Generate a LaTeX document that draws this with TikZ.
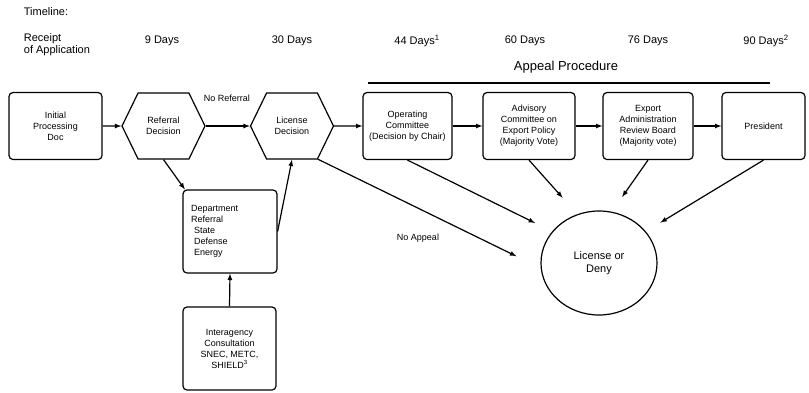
\documentclass[tikz,border=0pt]{standalone}
\usepackage{fontspec}
\setmainfont{Liberation Sans}
\usetikzlibrary{arrows,shapes.symbols,shapes.geometric}

\begin{document}
\begin{tikzpicture}[->,>=latex,line width=1.2pt,x=1pt,y=-1pt]
	\tikzstyle{every node}=[font=\fontsize{9}{11}\selectfont]
	\tikzstyle{stage}=[draw,rectangle,rounded corners=4pt,minimum height=67pt,align=center,inner sep=2pt]
	\tikzstyle{decision}=[draw,signal,signal to=east and west,signal pointer angle=128,minimum width=83pt,minimum height=66pt,align=center,inner sep=1pt]
	\tikzstyle{daymark}=[font=\fontsize{11}{12}\selectfont]

	\useasboundingbox (0,0) rectangle (809,392);

	% timeline
	\node[daymark,anchor=west] (tl) at (20,12) {Timeline:};
	\node[daymark,anchor=west,align=left] (d0) at (20,45) {Receipt\\of Application};
	\node[daymark] (d9)  at (162,41) {9 Days};
	\node[daymark] (d30) at (292,41) {30 Days};
	\node[daymark] (d44) at (417,41) {44 Days\textsuperscript{1}};
	\node[daymark] (d60) at (525,41) {60 Days};
	\node[daymark] (d76) at (648,41) {76 Days};
	\node[daymark] (d90) at (766,41) {90 Days\textsuperscript{2}};

	\node[font=\fontsize{13}{15}\selectfont] (appeal) at (566,67) {Appeal Procedure};
	\draw[-,line width=1.8pt] (368,83) -- (770,83);

	% main row
	\node[stage,minimum width=93pt] (init) at (55.5,126) {Initial\\Processing\\Doc};
	\node[decision] (ref) at (163.5,126) {Referral\\Decision};
	\node[decision] (lic) at (292,126) {License\\Decision};
	\node[stage,minimum width=89pt] (op)  at (407.5,126) {Operating\\Committee\\(Decision by Chair)};
	\node[stage,minimum width=92pt] (acep) at (529,126) {Advisory\\Committee on\\Export Policy\\(Majority Vote)};
	\node[stage,minimum width=90pt] (earb) at (648,126) {Export\\Administration\\Review Board\\(Majority vote)};
	\node[stage,minimum width=83pt] (pres) at (763.5,126) {President};

	% referral branch
	\node[stage,align=left,text width=78pt,inner xsep=8pt,minimum height=83pt] (dept) at (230,231.5) {Department\\Referral\\\hspace*{3pt}State\\\hspace*{3pt}Defense\\\hspace*{3pt}Energy};
	\node[stage,minimum width=93pt,minimum height=83pt] (inter) at (229.5,348.5) {Interagency\\Consultation\\SNEC, METC,\\SHIELD\textsuperscript{3}};

	\node[draw,ellipse,minimum width=116pt,minimum height=104pt,inner sep=0pt,align=center,font=\fontsize{11}{13.5}\selectfont] (res) at (599,263) {License or\\Deny};

	\node (noref) at (227,98) {No Referral};
	\node (noapp) at (418,238) {No Appeal};

	\path (init) edge (ref)
		  (ref) edge (lic)
		  (lic) edge (op)
		  (op) edge (acep)
		  (acep) edge (earb)
		  (earb) edge (pres);

	\draw (ref.south) -- (dept.137);
	\draw (inter.north) -- (dept.south);
	\draw (dept.east) -- (lic.south);

	\draw[shorten >=27pt] (lic.-52) -- (res.185);
	\draw[shorten >=19pt] (op.south) -- (res.146);
	\draw[shorten >=22pt] (acep.south) -- (res.114);
	\draw[shorten >=18pt] (earb.south) -- (res.76);
	\draw[shorten >=17pt] (pres.south) -- (res.34);

\end{tikzpicture}
\end{document}
